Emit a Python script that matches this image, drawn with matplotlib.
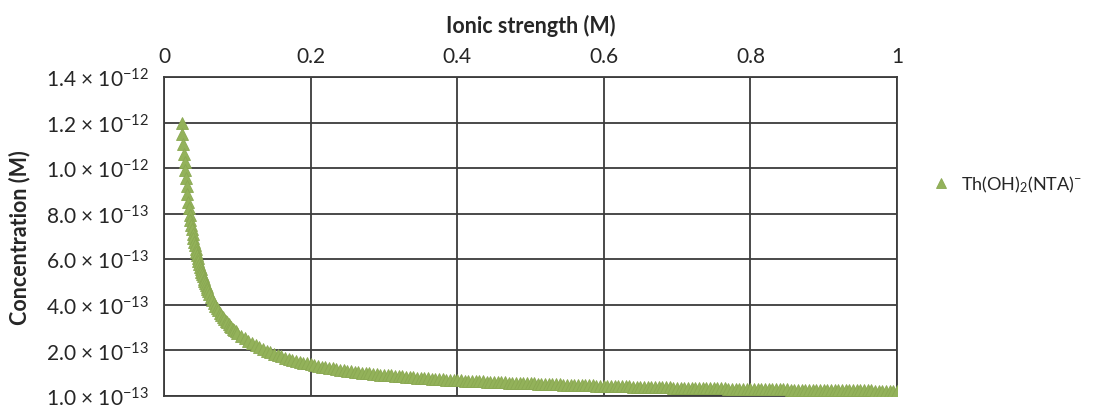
import matplotlib
matplotlib.use("Agg")
import matplotlib.pyplot as plt

plt.rcParams['font.family'] = ['Lato', 'DejaVu Sans']
plt.rcParams['mathtext.fontset'] = 'custom'
plt.rcParams['mathtext.rm'] = 'Lato'
plt.rcParams['mathtext.it'] = 'Lato:italic'
plt.rcParams['mathtext.bf'] = 'Lato:bold'

# ---- data (concentration in units of 1e-13 M) ----
ionic_strength = [
    0.024, 0.025, 0.026, 0.027, 0.028, 0.029, 0.030, 0.031, 0.032, 0.033,
    0.034, 0.035, 0.036, 0.037, 0.038, 0.039, 0.040, 0.041, 0.042, 0.043,
    0.044, 0.045, 0.046, 0.047, 0.048, 0.049, 0.050, 0.051, 0.052, 0.053,
    0.054, 0.055, 0.056, 0.057, 0.058, 0.059, 0.060,
    0.062, 0.064, 0.066, 0.068, 0.070, 0.072, 0.074, 0.076, 0.078, 0.080,
    0.082, 0.084, 0.086, 0.088, 0.090, 0.092, 0.094, 0.096, 0.098, 0.100,
    0.105, 0.110, 0.115, 0.120, 0.125, 0.130, 0.135, 0.140, 0.145, 0.150,
    0.155, 0.160, 0.165, 0.170, 0.175, 0.180, 0.185, 0.190, 0.195, 0.200,
    0.205, 0.210, 0.215, 0.220, 0.225, 0.230, 0.235, 0.240, 0.245, 0.250,
    0.255, 0.260, 0.265, 0.270, 0.275, 0.280, 0.285, 0.290, 0.295, 0.300,
    0.305, 0.310, 0.315, 0.320, 0.325, 0.330, 0.335, 0.340, 0.345, 0.350,
    0.355, 0.360, 0.365, 0.370, 0.375, 0.380, 0.385, 0.390, 0.395, 0.400,
    0.405, 0.410, 0.415, 0.420, 0.425, 0.430, 0.435, 0.440, 0.445, 0.450,
    0.455, 0.460, 0.465, 0.470, 0.475, 0.480, 0.485, 0.490, 0.495, 0.500,
    0.505, 0.510, 0.515, 0.520, 0.525, 0.530, 0.535, 0.540, 0.545, 0.550,
    0.555, 0.560, 0.565, 0.570, 0.575, 0.580, 0.585, 0.590, 0.595, 0.600,
    0.605, 0.610, 0.615, 0.620, 0.625, 0.630, 0.635, 0.640, 0.645, 0.650,
    0.655, 0.660, 0.665, 0.670, 0.675, 0.680, 0.685, 0.690, 0.695, 0.700,
    0.705, 0.710, 0.715, 0.720, 0.725, 0.730, 0.735, 0.740, 0.745, 0.750,
    0.755, 0.760, 0.765, 0.770, 0.775, 0.780, 0.785, 0.790, 0.795, 0.800,
    0.805, 0.810, 0.815, 0.820, 0.825, 0.830, 0.835, 0.840, 0.845, 0.850,
    0.855, 0.860, 0.865, 0.870, 0.875, 0.880, 0.885, 0.890, 0.895, 0.900,
    0.905, 0.910, 0.915, 0.920, 0.925, 0.930, 0.935, 0.940, 0.945, 0.950,
    0.955, 0.960, 0.965, 0.970, 0.975, 0.980, 0.985, 0.990, 0.995, 1.000,
]
conc_e13 = [
    11.96, 11.48, 11.04, 10.63, 10.25, 9.90, 9.57, 9.20, 8.86, 8.53,
    8.23, 7.94, 7.72, 7.51, 7.32, 7.13, 6.95, 6.78, 6.62, 6.47,
    6.32, 6.18, 6.04, 5.91, 5.79, 5.67, 5.56, 5.45, 5.35, 5.25,
    5.15, 5.05, 4.96, 4.88, 4.79, 4.71, 4.63,
    4.48, 4.34, 4.21, 4.09, 3.97, 3.86, 3.76, 3.66, 3.56, 3.48,
    3.39, 3.31, 3.23, 3.16, 3.09, 3.02, 2.96, 2.90, 2.84, 2.78,
    2.65, 2.53, 2.42, 2.32, 2.22, 2.14, 2.06, 1.99, 1.92, 1.85,
    1.79, 1.74, 1.68, 1.64, 1.59, 1.54, 1.50, 1.46, 1.43, 1.39,
    1.36, 1.32, 1.29, 1.26, 1.24, 1.21, 1.18, 1.16, 1.13, 1.11,
    1.09, 1.07, 1.05, 1.03, 1.01, 0.99, 0.98, 0.96, 0.94, 0.93,
    0.91, 0.90, 0.88, 0.87, 0.86, 0.84, 0.83, 0.82, 0.81, 0.79,
    0.78, 0.77, 0.76, 0.75, 0.74, 0.73, 0.72, 0.71, 0.70, 0.695,
    0.686, 0.678, 0.670, 0.662, 0.654, 0.647, 0.639, 0.632, 0.625, 0.618,
    0.611, 0.604, 0.598, 0.591, 0.585, 0.579, 0.573, 0.567, 0.562, 0.556,
    0.550, 0.543, 0.537, 0.531, 0.525, 0.519, 0.513, 0.508, 0.502, 0.497,
    0.491, 0.486, 0.481, 0.476, 0.471, 0.466, 0.461, 0.457, 0.452, 0.447,
    0.443, 0.438, 0.434, 0.430, 0.426, 0.421, 0.417, 0.413, 0.409, 0.406,
    0.402, 0.398, 0.394, 0.391, 0.387, 0.383, 0.380, 0.376, 0.373, 0.370,
    0.366, 0.363, 0.360, 0.357, 0.354, 0.351, 0.348, 0.345, 0.342, 0.339,
    0.336, 0.333, 0.330, 0.327, 0.325, 0.322, 0.319, 0.317, 0.314, 0.312,
    0.309, 0.306, 0.304, 0.302, 0.299, 0.297, 0.294, 0.292, 0.290, 0.288,
    0.285, 0.283, 0.281, 0.279, 0.277, 0.274, 0.272, 0.270, 0.268, 0.266,
    0.264, 0.262, 0.260, 0.258, 0.256, 0.255, 0.253, 0.251, 0.249, 0.247,
    0.245, 0.244, 0.242, 0.240, 0.238, 0.237, 0.235, 0.233, 0.232, 0.230,
]
series_name = r'Th(OH)$_2$(NTA)$^{-}$'

x_ticks = [0, 0.2, 0.4, 0.6, 0.8, 1.0]
x_ticklabels = ['0', '0.2', '0.4', '0.6', '0.8', '1']
y_ticks_e13 = [0, 2, 4, 6, 8, 10, 12, 14]
y_ticklabels = [
    r'1.0 × 10$^{−13}$', r'2.0 × 10$^{−13}$', r'4.0 × 10$^{−13}$',
    r'6.0 × 10$^{−13}$', r'8.0 × 10$^{−13}$', r'1.0 × 10$^{−12}$',
    r'1.2 × 10$^{−12}$', r'1.4 × 10$^{−12}$',
]

# ---- figure ----
fig = plt.figure(figsize=(11.1, 4.1), dpi=100)
ax = fig.add_axes([164 / 1110, 1 - 397 / 410, (897 - 164) / 1110, (397 - 78) / 410])

grid_col = '#3c3c3c'
y_vals = [v * 1e-13 for v in conc_e13]
ax.plot(ionic_strength, y_vals, linestyle='none', marker='^', ms=9,
        color='#93B25A', markeredgecolor='#8AA852', markeredgewidth=0.6,
        label=series_name, zorder=3)

ax.set_xlim(0, 1)
ax.set_ylim(0, 1.4e-12)
ax.xaxis.tick_top()
ax.xaxis.set_label_position('top')
ax.set_xticks(x_ticks)
ax.set_xticklabels(x_ticklabels)
ax.set_yticks([v * 1e-13 for v in y_ticks_e13])
ax.set_yticklabels(y_ticklabels)
ax.tick_params(axis='both', length=0, labelsize=15, colors='#262626')
ax.tick_params(axis='x', pad=8)
ax.tick_params(axis='y', pad=11)
ax.grid(True, color=grid_col, linewidth=1.3)
ax.set_axisbelow(True)
for s in ax.spines.values():
    s.set_color(grid_col)
    s.set_linewidth(1.3)

ax.set_xlabel('Ionic strength (M)', fontsize=15.5, fontweight='bold', labelpad=10, color='#262626')
ax.set_ylabel('Concentration (M)', fontsize=15.5, fontweight='bold', labelpad=11, color='#262626')

fig.legend(loc='center left', bbox_to_anchor=(916 / 1110, 1 - 185 / 410), frameon=False,
           fontsize=13, handlelength=1.0, handletextpad=0.6, markerscale=0.75,
           labelcolor='#262626')

fig.savefig('out.png', dpi=100)
